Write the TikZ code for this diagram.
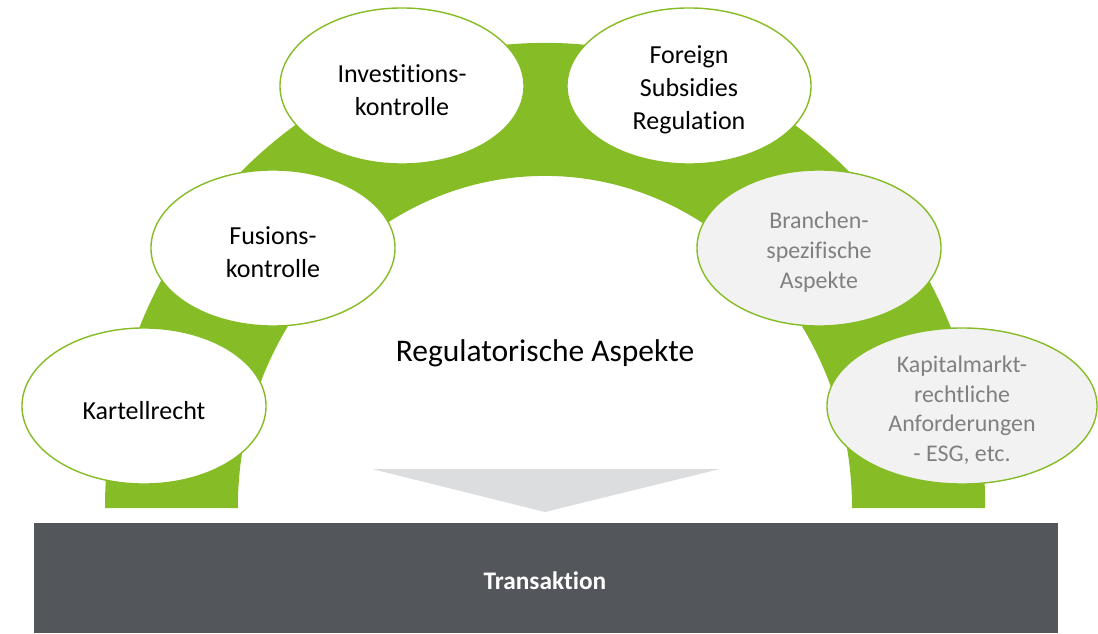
\documentclass[tikz,border=0pt]{standalone}
\usepackage{fontspec}
\setmainfont{Carlito}[Ligatures={NoCommon,NoRare}]
\usetikzlibrary{shapes.geometric}
\definecolor{archgreen}{RGB}{134,188,37}
\definecolor{bubblegray}{RGB}{242,242,242}
\definecolor{textgray}{RGB}{128,128,128}
\definecolor{bardark}{RGB}{83,86,90}
\definecolor{arrowgray}{RGB}{220,221,222}
\tikzset{
  bubble/.style={ellipse, draw=archgreen, line width=1pt, fill=white,
                 minimum width=6.1cm, minimum height=3.9cm, inner sep=0pt},
  bubblegray/.style={bubble, fill=bubblegray},
  bubbletext/.style={align=center, yshift=-3pt, font=\fontsize{18.5}{23.5}\selectfont},
  graytext/.style={bubbletext, text=textgray, font=\fontsize{17}{21.3}\selectfont},
  title/.style={font=\fontsize{22.4}{27}\selectfont},
  barlabel/.style={text=white, font=\bfseries\fontsize{18}{22}\selectfont},
}

\begin{document}
\begin{tikzpicture}[x=0.025cm, y=0.025cm]
\useasboundingbox (0,0) rectangle (1098,633);

% green arch behind the topics
\fill[archgreen] (105,125) arc[start angle=180, end angle=0, x radius=11cm, y radius=11.625cm]
  -- (852,125) arc[start angle=0, end angle=180, x radius=7.675cm, y radius=8.3cm] -- cycle;

% arrow down onto the transaction bar
\fill[arrowgray] (372,164) -- (720,164) -- (545,121) -- cycle;
\fill[bardark] (34,0) rectangle (1058,110);
\node[barlabel] (trans) at (545,52) {Transaktion};

\node[title] (reg) at (545,280) {Regulatorische Aspekte};

\node[bubble, label={[bubbletext]center:Kartellrecht}] (kartell) at (144,227) {};
\node[bubble, label={[bubbletext]center:Fusions-\\kontrolle}] (fusion) at (273,385) {};
\node[bubble, label={[bubbletext]center:Investitions-\\kontrolle}] (invest) at (402,547) {};
\node[bubble, label={[bubbletext]center:Foreign\\Subsidies\\Regulation}] (fsr) at (689,547) {};
\node[bubblegray, label={[graytext]center:Branchen-\\spezifische\\Aspekte}] (branche) at (819,385) {};
\node[bubblegray, minimum width=6.75cm,
  label={[graytext]center:Kapitalmarkt-\\rechtliche\\Anforderungen\\- ESG, etc.}] (kapital) at (962,227) {};
\end{tikzpicture}
\end{document}
